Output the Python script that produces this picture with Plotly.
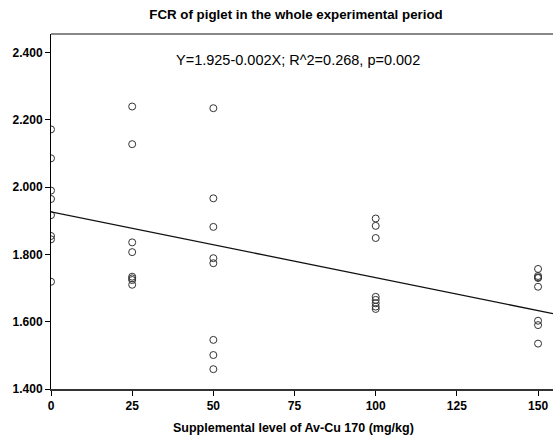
import plotly.graph_objects as go

# Data
levels = [0, 25, 50, 100, 150]
fcr_0 = [2.172, 2.086, 1.990, 1.965, 1.917, 1.855, 1.845, 1.719]
fcr_25 = [2.240, 2.128, 1.836, 1.807, 1.734, 1.729, 1.724, 1.710]
fcr_50 = [2.235, 1.967, 1.882, 1.789, 1.774, 1.546, 1.501, 1.459]
fcr_100 = [1.907, 1.885, 1.849, 1.674, 1.665, 1.655, 1.645, 1.638]
fcr_150 = [1.757, 1.736, 1.732, 1.730, 1.704, 1.603, 1.590, 1.535]
groups = [fcr_0, fcr_25, fcr_50, fcr_100, fcr_150]

intercept = 1.927
slope = -0.00196

x_ticks = [0, 25, 50, 75, 100, 125, 150]
y_ticks = [1.4, 1.6, 1.8, 2.0, 2.2, 2.4]
x_range = [0, 154.6]
y_range = [1.4, 2.4556]

title_text = "FCR of piglet in the whole experimental period"
eq_text = "Y=1.925-0.002X; R^2=0.268, p=0.002"
x_title = "Supplemental level of Av-Cu 170 (mg/kg)"

xs, ys = [], []
for lv, g in zip(levels, groups):
    xs += [lv] * len(g)
    ys += g

fig = go.Figure()
fig.add_trace(go.Scatter(
    x=xs, y=ys, mode="markers",
    marker=dict(symbol="circle-open", size=7, color="#333333", line=dict(width=1)),
    showlegend=False, cliponaxis=True,
))
fig.add_trace(go.Scatter(
    x=x_range, y=[intercept + slope * v for v in x_range], mode="lines",
    line=dict(color="#111111", width=1.3), showlegend=False,
))

font_family = "Arial, Liberation Sans, sans-serif"

fig.update_layout(
    width=553, height=439,
    margin=dict(l=51, r=0, t=34, b=50),
    paper_bgcolor="white", plot_bgcolor="white",
    title=dict(text=title_text, x=296 / 553, xanchor="center", y=1 - 14 / 439, yanchor="middle",
               font=dict(family=font_family, size=13.3, color="black", weight="bold")),
    xaxis=dict(range=x_range, tickvals=x_ticks, ticks="outside", ticklen=5, tickcolor="black",
               showline=True, linecolor="#333333", linewidth=1.5, showgrid=False, zeroline=False,
               tickfont=dict(family=font_family, size=12, color="black", weight="bold")),
    yaxis=dict(range=y_range, tickvals=y_ticks, tickformat=".3f", ticks="outside", ticklen=5,
               tickcolor="black", showline=True, linecolor="black", linewidth=1, showgrid=False,
               zeroline=False,
               tickfont=dict(family=font_family, size=12, color="black", weight="bold")),
    shapes=[dict(type="line", xref="paper", yref="paper", x0=0, x1=1, y0=1, y1=1,
                 line=dict(color="#888888", width=2))],
    annotations=[
        dict(text=eq_text, xref="paper", yref="paper", x=(298 - 51) / 502, y=(389 - 60) / 355,
             xanchor="center", yanchor="middle", showarrow=False,
             font=dict(family=font_family, size=14.5, color="black")),
        dict(text=x_title, xref="paper", yref="paper", x=(293 - 51) / 502, y=(389 - 428) / 355,
             xanchor="center", yanchor="middle", showarrow=False,
             font=dict(family=font_family, size=12.5, color="black", weight="bold")),
    ],
)

fig.write_html("out.html")
